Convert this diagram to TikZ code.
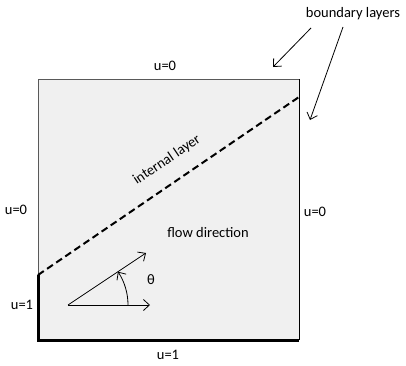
\documentclass[tikz,border=0pt]{standalone}
\usepackage{fontspec}
\setmainfont{Carlito}
\usetikzlibrary{arrows.meta}
\tikzset{
  barb/.style={-{Straight Barb[length=6pt,width=11pt]}, line width=0.8pt},
  lbl/.style={inner sep=1pt}
}
\begin{document}
\begin{tikzpicture}[x=1pt,y=1pt,font=\fontsize{14.5}{17}\selectfont]
        \useasboundingbox (0,0) rectangle (406,365);
        % the domain
        \fill[black!6] (38,25) rectangle (299,286);
        \draw[black!65, line width=0.9pt] (38,90) -- (38,286) -- (299,286);
        \draw[line width=0.9pt] (299,286) -- (299,25);
        \draw[line width=3pt] (38,90) -- (38,25) -- (299,25);
        \draw[line width=2pt, dash pattern=on 7pt off 4pt] (38,90) -- (299,268);

        % boundary values
        \node[lbl] (top0) at (165,299) {u=0};
        \node[lbl] (left0) at (16,155) {u=0};
        \node[lbl] (right0) at (315,153) {u=0};
        \node[lbl] (left1) at (22,60) {u=1};
        \node[lbl] (bottom1) at (168,10) {u=1};

        \node[lbl, rotate=34] (intl) at (167,205) {internal layer};
        \node[lbl] (flow) at (208,132) {flow direction};

        % flow vectors
        \coordinate (o) at (68,60);
        \coordinate (ox) at (150,60);
        \coordinate (ot) at (146,112);
        \draw[barb] (o) -- (ox);
        \draw[barb] (o) -- (ot);
        \draw[barb] (128,60) arc[start angle=0, end angle=33.7, radius=60];
        \node[lbl] (theta) at (151,85) {θ};

        % boundary layers
        \node[lbl] (bl) at (353,351) {boundary layers};
        \coordinate (blt) at (273,298);
        \coordinate (blr) at (310,245);
        \draw[barb] (311,337) -- (blt);
        \draw[barb] (343,338) -- (blr);
\end{tikzpicture}
\end{document}
